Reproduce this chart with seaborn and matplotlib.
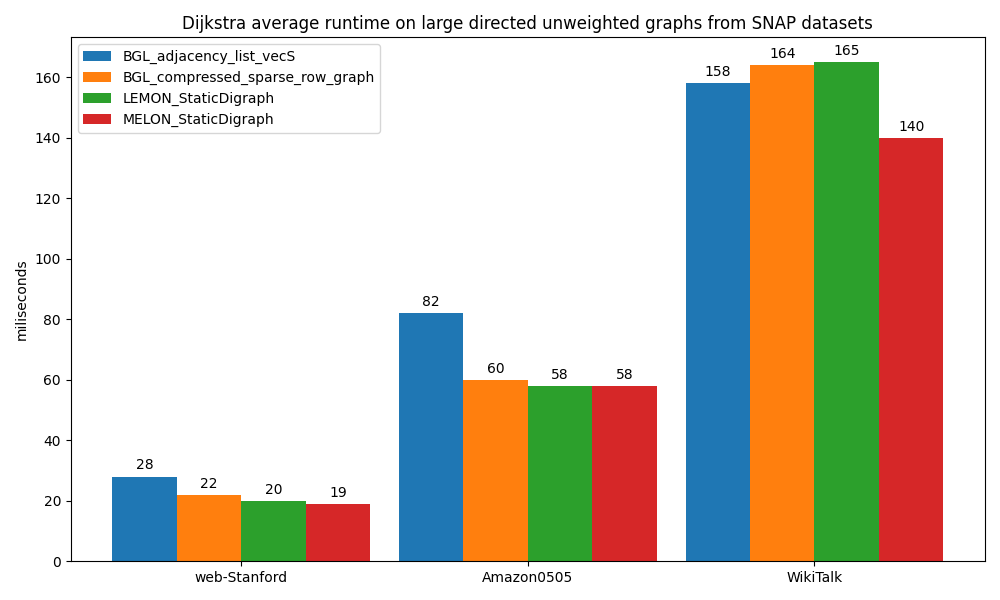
import pandas as pd
import seaborn as sns
import matplotlib
matplotlib.use("Agg")
import matplotlib.pyplot as plt

datasets = ["web-Stanford", "Amazon0505", "WikiTalk"]
libraries = [
    "BGL_adjacency_list_vecS",
    "BGL_compressed_sparse_row_graph",
    "LEMON_StaticDigraph",
    "MELON_StaticDigraph",
]
bgl_vecs = [28, 82, 158]
bgl_csr = [22, 60, 164]
lemon = [20, 58, 165]
melon = [19, 58, 140]

series = [bgl_vecs, bgl_csr, lemon, melon]
rows = []
for lib, vals in zip(libraries, series):
    for ds, v in zip(datasets, vals):
        rows.append({"dataset": ds, "library": lib, "ms": v})
df = pd.DataFrame(rows)

colors = ["#1f77b4", "#ff7f0e", "#2ca02c", "#d62728"]

fig, ax = plt.subplots(figsize=(10, 6), dpi=100)
sns.barplot(data=df, x="dataset", y="ms", hue="library", hue_order=libraries,
            order=datasets, palette=colors, width=0.9, gap=0, saturation=1,
            errorbar=None, ax=ax)

for c in ax.containers:
    ax.bar_label(c, padding=3, fmt="%d")

ax.set_xlim(-0.595, 2.595)
ax.set_ylim(0, 173.25)
ax.set_xlabel("")
ax.set_ylabel("miliseconds")
ax.set_title("Dijkstra average runtime on large directed unweighted graphs from SNAP datasets")
ax.legend(loc="upper left", title=None)

plt.tight_layout()
plt.savefig("out.png")
